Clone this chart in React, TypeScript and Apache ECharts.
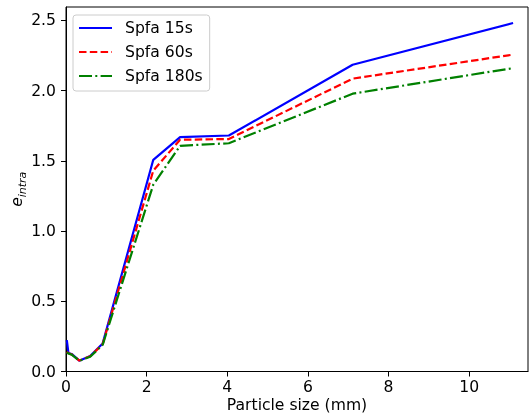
import React, { useEffect, useRef } from "react";
import * as echarts from "echarts";

const xs = [0.02, 0.06, 0.14, 0.33, 0.6, 0.91, 2.165, 2.83, 4.04, 7.11, 11.09];
const spfa15 = [0.224, 0.132, 0.125, 0.077, 0.11, 0.2, 1.507, 1.669, 1.68, 2.184, 2.481];
const spfa60 = [0.14, 0.13, 0.122, 0.078, 0.108, 0.195, 1.43, 1.65, 1.655, 2.085, 2.256];
const spfa180 = [0.135, 0.128, 0.12, 0.076, 0.105, 0.19, 1.33, 1.607, 1.625, 1.978, 2.16];
const seriesNames = ["Spfa 15s", "Spfa 60s", "Spfa 180s"];
const xTicks = [0, 2, 4, 6, 8, 10];
const yTicks = [0, 0.5, 1.0, 1.5, 2.0, 2.5];

const FONT = "DejaVu Sans";
const FS = 15.6;

export default function App() {
  const ref = useRef<HTMLDivElement>(null);
  useEffect(() => {
    if (!ref.current) return;
    const chart = echarts.init(ref.current, null, { renderer: "svg" });
    const pair = (ys: number[]) => xs.map((x, i) => [x, ys[i]]);
    const mk = (name: string, ys: number[], color: string, type: any) => ({
      name,
      type: "line",
      data: pair(ys),
      symbol: "none",
      lineStyle: { color, width: 2.2, type },
      itemStyle: { color },
    });
    chart.setOption({
      animation: false,
      textStyle: { fontFamily: FONT },
      grid: {
        left: 66,
        right: 2,
        top: 7,
        bottom: 42.5,
        show: true,
        borderColor: "#000",
        borderWidth: 1,
        outerBoundsMode: "none",
      },
      legend: {
        orient: "vertical",
        left: 73,
        top: 15,
        padding: [5, 7, 7, 5],
        itemWidth: 33,
        itemHeight: 14,
        itemGap: 8,
        backgroundColor: "rgba(255,255,255,0.8)",
        borderColor: "#cccccc",
        borderWidth: 1,
        borderRadius: 3,
        itemStyle: { opacity: 0 },
        textStyle: { fontSize: FS, color: "#000", fontFamily: FONT, padding: [0, 0, 0, 8] },
        data: seriesNames,
      },
      xAxis: {
        type: "value",
        min: 0,
        max: 11.46,
        name: "Particle size (mm)",
        nameLocation: "middle",
        nameGap: 25.5,
        nameMoveOverlap: false,
        nameTextStyle: { fontSize: FS, lineHeight: 16, color: "#000", fontFamily: FONT },
        axisLine: { show: true, lineStyle: { color: "#000", width: 1 } },
        axisTick: { show: true, length: 5, inside: false, lineStyle: { color: "#000" }, customValues: xTicks },
        axisLabel: { fontSize: FS, color: "#000", margin: 7, fontFamily: FONT, customValues: xTicks, formatter: (v: number) => String(v) },
        splitLine: { show: false },
      },
      yAxis: {
        type: "value",
        min: 0,
        max: 2.595,
        name: "{e|e}{s|intra}",
        nameLocation: "middle",
        nameRotate: 90,
        nameGap: 38,
        nameMoveOverlap: false,
        nameTextStyle: {
          color: "#000",
          fontFamily: FONT,
          rich: {
            e: { fontSize: FS, fontStyle: "italic", lineHeight: 22, verticalAlign: "middle", fontFamily: FONT, color: "#000" },
            s: { fontSize: 11, fontStyle: "italic", lineHeight: 22, verticalAlign: "bottom", fontFamily: FONT, color: "#000" },
          },
        },
        axisLine: { show: true, lineStyle: { color: "#000", width: 1 } },
        axisTick: { show: true, length: 5, inside: false, lineStyle: { color: "#000" }, customValues: yTicks },
        axisLabel: { fontSize: FS, color: "#000", margin: 10, fontFamily: FONT, customValues: yTicks, formatter: (v: number) => v.toFixed(1) },
        splitLine: { show: false },
      },
      series: [
        mk(seriesNames[0], spfa15, "#0000ff", "solid"),
        mk(seriesNames[1], spfa60, "#ff0000", [7.5, 3.3]),
        mk(seriesNames[2], spfa180, "#008000", [13, 3.3, 2, 3.3]),
      ],
    });
    return () => chart.dispose();
  }, []);
  return <div ref={ref} style={{ position: "fixed", left: 0, top: 0, width: 530, height: 414 }} />;
}
